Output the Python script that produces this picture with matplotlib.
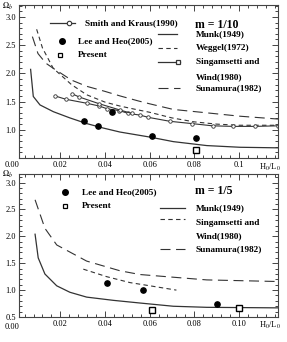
import matplotlib
matplotlib.use('Agg')
from matplotlib import pyplot as plt
from matplotlib.ticker import MultipleLocator

plt.rcParams['font.family'] = ['Liberation Serif', 'DejaVu Serif']
plt.rcParams['mathtext.fontset'] = 'stix'

# ---- m = 1/10 (top panel) ----
munk_top_x = [0.0067, 0.0079, 0.0109, 0.0169, 0.0243, 0.0318, 0.0393, 0.0467, 0.0557, 0.0602, 0.0706, 0.0856, 0.1005, 0.1175]
munk_top_y = [2.07, 1.59, 1.44, 1.32, 1.21, 1.11, 1.03, 0.96, 0.90, 0.87, 0.79, 0.72, 0.69, 0.68]

weggel_x = [0.0094, 0.0120, 0.0168, 0.0250, 0.0318, 0.0400, 0.0467, 0.0550, 0.0600, 0.0700, 0.0800, 0.0900, 0.1000, 0.1175]
weggel_y = [2.78, 2.45, 2.09, 1.80, 1.62, 1.49, 1.42, 1.35, 1.31, 1.21, 1.14, 1.10, 1.08, 1.08]

sunamura_top_x = [0.0075, 0.0100, 0.0135, 0.0168, 0.0250, 0.0318, 0.0400, 0.0467, 0.0550, 0.0600, 0.0706, 0.0856, 0.1005, 0.1175]
sunamura_top_y = [2.65, 2.35, 2.18, 2.09, 1.88, 1.77, 1.68, 1.60, 1.51, 1.46, 1.36, 1.30, 1.24, 1.19]

smith_x = [0.0176, 0.0225, 0.0318, 0.0375, 0.0411, 0.0464, 0.0504, 0.0557, 0.0594, 0.0691, 0.0788, 0.0882, 0.0975, 0.1072, 0.1175]
smith_y = [1.60, 1.54, 1.47, 1.42, 1.37, 1.34, 1.29, 1.26, 1.22, 1.15, 1.11, 1.07, 1.06, 1.06, 1.07]

singam_top_x = [0.0251, 0.0285, 0.0375, 0.0467, 0.0520]
singam_top_y = [1.64, 1.58, 1.46, 1.35, 1.29]

lee_top_x = [0.0307, 0.0367, 0.0433, 0.0609, 0.0808]
lee_top_y = [1.16, 1.07, 1.31, 0.89, 0.85]

present_top_x = [0.0808]
present_top_y = [0.65]

# ---- m = 1/5 (bottom panel) ----
munk_bot_x = [0.0087, 0.0101, 0.0131, 0.0184, 0.0243, 0.0318, 0.0437, 0.0557, 0.0706, 0.0856, 0.1175]
munk_bot_y = [2.04, 1.60, 1.30, 1.08, 0.96, 0.87, 0.81, 0.76, 0.70, 0.68, 0.67]

sunamura_bot_x = [0.0087, 0.0131, 0.0184, 0.0318, 0.0467, 0.0557, 0.0706, 0.0856, 0.1175]
sunamura_bot_y = [2.68, 2.15, 1.84, 1.54, 1.36, 1.29, 1.24, 1.19, 1.16]

singam_bot_x = [0.0303, 0.0408, 0.0512, 0.0602, 0.0720]
singam_bot_y = [1.39, 1.25, 1.14, 1.08, 1.00]

lee_bot_x = [0.0410, 0.0569, 0.0903]
lee_bot_y = [1.13, 1.00, 0.75]

present_bot_x = [0.0609, 0.1000]
present_bot_y = [0.63, 0.66]

top_xticks = [0.02, 0.04, 0.06, 0.08, 0.10]
top_xlabels = ['0.02', '0.04', '0.06', '0.08', '0.1']
bot_xlabels = ['0.02', '0.04', '0.06', '0.08', '0.10']
yticks_top = [1.0, 1.5, 2.0, 2.5, 3.0]
yticks_bot = [0.5, 1.0, 1.5, 2.0, 2.5, 3.0]

LC = '#333333'
W, H = 287, 342
LONG = (9, 5)
SHORT = (4, 3)

fig = plt.figure(figsize=(W / 100, H / 100), dpi=100)
fig.patch.set_facecolor('white')


def px_axes(x0, y0, x1, y1):
    return fig.add_axes([x0 / W, 1 - y1 / H, (x1 - x0) / W, (y1 - y0) / H])


ax1 = px_axes(19, 5, 278, 158)
ax2 = px_axes(19, 174, 278, 317)


def style(ax, ylim, yticks, xlabels, omega_y, zero_y):
    ax.set_xlim(0.0015, 0.1175)
    ax.set_ylim(*ylim)
    ax.set_xticks(top_xticks)
    ax.set_xticklabels(xlabels)
    ax.set_yticks(yticks)
    ax.set_yticklabels(['%.1f' % v for v in yticks])
    ax.xaxis.set_minor_locator(MultipleLocator(0.004))
    ax.yaxis.set_minor_locator(MultipleLocator(0.1))
    ax.tick_params(which='both', direction='in', top=True, right=True,
                   labelsize=6, pad=2, color='#444444', width=0.7)
    ax.tick_params(which='major', length=4)
    ax.tick_params(which='minor', length=2.5)
    for s in ax.spines.values():
        s.set_linewidth(0.8)
        s.set_color('#444444')
    ax.text(-0.045, omega_y, r'$\Omega_b$', transform=ax.transAxes, fontsize=6,
            ha='center', va='center')
    ax.text(-0.025, zero_y, '0.00', transform=ax.transAxes, fontsize=6,
            ha='center', va='center')
    ax.text(0.97, -0.06, r'H$_0$/L$_0$', transform=ax.transAxes, fontsize=6,
            ha='center', va='center')


style(ax1, (0.5, 3.21), yticks_top, top_xlabels, 0.99, -0.045)
style(ax2, (0.5, 3.16), yticks_bot, bot_xlabels, 1.0, -0.068)

# top panel curves
ax1.plot(munk_top_x, munk_top_y, '-', color=LC, lw=0.9)
ax1.plot(weggel_x, weggel_y, '-', color=LC, lw=0.8, dashes=SHORT)
ax1.plot(sunamura_top_x, sunamura_top_y, '-', color=LC, lw=0.8, dashes=LONG)
ax1.plot(smith_x, smith_y, '-o', color=LC, lw=0.8, ms=2.5, mfc='white', mew=0.6)
ax1.plot(singam_top_x, singam_top_y, '-o', color=LC, lw=0.8, ms=2.5, mfc='white', mew=0.6)
ax1.plot(lee_top_x, lee_top_y, 'o', color='black', ms=3.8)
ax1.plot(present_top_x, present_top_y, 's', color='black', mfc='white', ms=3.8, mew=1.0)

# bottom panel curves
ax2.plot(munk_bot_x, munk_bot_y, '-', color=LC, lw=0.9)
ax2.plot(sunamura_bot_x, sunamura_bot_y, '-', color=LC, lw=0.8, dashes=LONG)
ax2.plot(singam_bot_x, singam_bot_y, '-', color=LC, lw=0.8, dashes=SHORT)
ax2.plot(lee_bot_x, lee_bot_y, 'o', color='black', ms=3.8)
ax2.plot(present_bot_x, present_bot_y, 's', color='black', mfc='white', ms=3.8, mew=1.0)


def key_line(ax, x0, x1, y, **kw):
    ax.plot([x0, x1], [y, y], transform=ax.transAxes, clip_on=False, color=LC, **kw)


def key_text(ax, x, y, s, size=6.7):
    ax.text(x, y, s, transform=ax.transAxes, fontsize=size, fontweight='bold',
            ha='left', va='center')


# top legends
key_line(ax1, 0.12, 0.216, 0.882, lw=0.9)
ax1.plot([0.193], [0.882], 'o', transform=ax1.transAxes, color=LC, mfc='white', ms=3.2, mew=0.8)
key_text(ax1, 0.255, 0.882, 'Smith and Kraus(1990)')
ax1.plot([0.166], [0.765], 'o', transform=ax1.transAxes, color='black', ms=4)
key_text(ax1, 0.228, 0.765, 'Lee and Heo(2005)')
ax1.plot([0.158], [0.673], 's', transform=ax1.transAxes, color='black', mfc='white', ms=3.5, mew=0.9)
key_text(ax1, 0.228, 0.673, 'Present')

key_text(ax1, 0.68, 0.869, 'm = 1/10', size=8.5)
key_line(ax1, 0.537, 0.61, 0.812, lw=0.9)
key_text(ax1, 0.683, 0.812, 'Munk(1949)')
key_line(ax1, 0.537, 0.61, 0.719, lw=0.8, dashes=SHORT)
key_text(ax1, 0.683, 0.719, 'Weggel(1972)')
key_line(ax1, 0.537, 0.62, 0.627, lw=0.9)
ax1.plot([0.614], [0.627], 's', transform=ax1.transAxes, color=LC, mfc='white', ms=3.5, mew=0.9)
key_text(ax1, 0.683, 0.627, 'Singamsetti and')
key_text(ax1, 0.683, 0.529, 'Wind(1980)')
key_line(ax1, 0.537, 0.62, 0.458, lw=0.8, dashes=LONG)
key_text(ax1, 0.683, 0.458, 'Sunamura(1982)')

# bottom legends
ax2.plot([0.178], [0.876], 'o', transform=ax2.transAxes, color='black', ms=4)
key_text(ax2, 0.243, 0.876, 'Lee and Heo(2005)')
ax2.plot([0.178], [0.779], 's', transform=ax2.transAxes, color='black', mfc='white', ms=3.5, mew=0.9)
key_text(ax2, 0.243, 0.779, 'Present')

key_text(ax2, 0.68, 0.883, 'm = 1/5', size=8.5)
key_line(ax2, 0.544, 0.641, 0.759, lw=0.9)
key_text(ax2, 0.683, 0.759, 'Munk(1949)')
key_line(ax2, 0.544, 0.641, 0.683, lw=0.8, dashes=SHORT)
key_text(ax2, 0.683, 0.655, 'Singamsetti and')
key_text(ax2, 0.683, 0.566, 'Wind(1980)')
key_line(ax2, 0.544, 0.641, 0.476, lw=0.8, dashes=LONG)
key_text(ax2, 0.683, 0.476, 'Sunamura(1982)')

fig.savefig('out.png', dpi=100, facecolor='white')
plt.close(fig)
